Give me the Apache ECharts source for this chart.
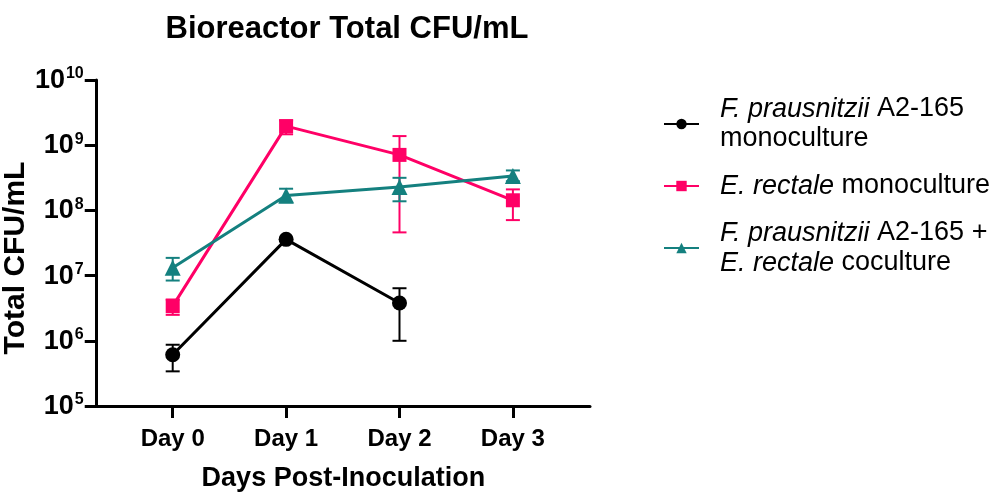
<!DOCTYPE html>
<html>
<head>
<meta charset="utf-8">
<script src="https://cdn.jsdelivr.net/npm/echarts@6/dist/echarts.min.js"></script>
<style>
  html, body { margin: 0; padding: 0; background: #fff; }
  #chart { width: 1000px; height: 497px; }
</style>
</head>
<body>
<div id="chart"></div>
<script>
// Days sampled after inoculation
const days = ['Day 0', 'Day 1', 'Day 2', 'Day 3'];

// F. prausnitzii A2-165 monoculture (mean, lower and upper error bounds, CFU/mL)
const fpMean = [6.1e5, 3.6e7, 3.8e6, null];
const fpLow  = [3.4e5, 3.4e7, 1.0e6, null];
const fpHigh = [8.7e5, 3.8e7, 6.4e6, null];

// E. rectale monoculture
const erMean = [3.4e6, 1.96e9, 7.1e8, 1.43e8];
const erLow  = [2.5e6, 1.47e9, 4.6e7, 7.1e7];
const erHigh = [4.3e6, 2.4e9, 1.38e9, 2.1e8];

// F. prausnitzii A2-165 + E. rectale coculture
const coMean = [1.32e7, 1.69e8, 2.28e8, 3.36e8];
const coLow  = [8.4e6, 1.32e8, 1.38e8, 2.8e8];
const coHigh = [1.87e7, 2.15e8, 3.16e8, 4.1e8];

// Y-axis decades shown as powers of ten
const yExponents = [5, 6, 7, 8, 9, 10];

const FONT = '"Liberation Sans", Arial, sans-serif';
const BLACK = '#000000';
const PINK = '#FF0066';
const TEAL = '#14807F';

function points(mean) {
  return mean.map((v, i) => v == null ? null : [i, v]).filter(Boolean);
}
function bars(low, high) {
  return low.map((l, i) => (l == null || high[i] == null) ? null : [i, l, high[i]]).filter(Boolean);
}

function errorBarSeries(name, low, high, color, z) {
  return {
    type: 'custom',
    name: name + ' error',
    z: z,
    silent: true,
    data: bars(low, high),
    encode: { x: 0, y: [1, 2] },
    renderItem: function (params, api) {
      const x = api.value(0);
      const lo = api.coord([x, api.value(1)]);
      const hi = api.coord([x, api.value(2)]);
      const half = 7;
      const style = { stroke: color, lineWidth: 2 };
      return {
        type: 'group',
        children: [
          { type: 'line', shape: { x1: lo[0], y1: lo[1], x2: hi[0], y2: hi[1] }, style: style },
          { type: 'line', shape: { x1: lo[0] - half, y1: lo[1], x2: lo[0] + half, y2: lo[1] }, style: style },
          { type: 'line', shape: { x1: hi[0] - half, y1: hi[1], x2: hi[0] + half, y2: hi[1] }, style: style }
        ]
      };
    }
  };
}

function lineSeries(name, mean, color, symbol, size, z) {
  return {
    type: 'line',
    name: name,
    z: z,
    data: points(mean),
    symbol: symbol,
    symbolSize: size,
    showAllSymbol: true,
    lineStyle: { color: color, width: 3 },
    itemStyle: { color: color, opacity: 1 },
    emphasis: { disabled: true }
  };
}

const NAME_FP = 'fp';
const NAME_ER = 'er';
const NAME_CO = 'co';

const legendText = {};
legendText[NAME_FP] = '{i|F. prausnitzii} A2-165\nmonoculture';
legendText[NAME_ER] = '{i|E. rectale} monoculture';
legendText[NAME_CO] = '{i|F. prausnitzii} A2-165 +\n{i|E. rectale} coculture';

const chart = echarts.init(document.getElementById('chart'), null, { renderer: 'canvas' });

chart.setOption({
  animation: false,
  backgroundColor: '#ffffff',
  title: {
    text: 'Bioreactor Total CFU/mL',
    left: 342,
    top: 9,
    textAlign: 'center',
    textStyle: { fontFamily: FONT, fontWeight: 'bold', fontSize: 31, color: '#000' }
  },
  legend: {
    orient: 'vertical',
    left: 658,
    top: 89,
    itemWidth: 35,
    itemHeight: 13,
    itemGap: 17,
    data: [NAME_FP, NAME_ER, NAME_CO],
    formatter: function (name) { return legendText[name]; },
    textStyle: {
      fontFamily: FONT,
      fontSize: 27,
      color: '#000',
      lineHeight: 30,
      padding: [0, 0, 0, 16],
      rich: {
        i: { fontFamily: FONT, fontSize: 27, fontStyle: 'italic', color: '#000', lineHeight: 30 }
      }
    }
  },
  grid: { left: 92, top: 80, width: 498, height: 330, containLabel: false },
  xAxis: {
    type: 'value',
    min: -0.67,
    max: 3.68,
    name: 'Days Post-Inoculation',
    nameLocation: 'middle',
    nameGap: 59,
    nameTextStyle: { fontFamily: FONT, fontWeight: 'bold', fontSize: 27, color: '#000' },
    axisLine: { show: true, onZero: false, lineStyle: { color: '#000', width: 3 } },
    axisTick: { show: true, inside: false, length: 12, customValues: [0, 1, 2, 3], lineStyle: { color: '#000', width: 3 } },
    axisLabel: {
      customValues: [0, 1, 2, 3],
      margin: 21,
      fontFamily: FONT, fontWeight: 'bold', fontSize: 24, color: '#000',
      formatter: function (v) { return days[Math.round(v)]; }
    },
    splitLine: { show: false }
  },
  yAxis: {
    type: 'log',
    logBase: 10,
    min: Math.pow(10, yExponents[0]),
    max: Math.pow(10, yExponents[yExponents.length - 1]),
    name: 'Total CFU/mL',
    nameLocation: 'middle',
    nameGap: 50,
    nameTextStyle: { fontFamily: FONT, fontWeight: 'bold', fontSize: 30, color: '#000', padding: [0, 30, 0, 0] },
    axisLine: { show: true, onZero: false, lineStyle: { color: '#000', width: 3 } },
    axisTick: { show: true, inside: false, length: 12, lineStyle: { color: '#000', width: 3 } },
    axisLabel: {
      margin: 13,
      formatter: function (v) {
        const e = Math.round(Math.log10(v));
        return '{b|10}{s|' + e + '}';
      },
      rich: {
        b: { fontFamily: FONT, fontWeight: 'bold', fontSize: 27, color: '#000', verticalAlign: 'bottom' },
        s: { fontFamily: FONT, fontWeight: 'bold', fontSize: 16, color: '#000', verticalAlign: 'top', padding: [0, 0, 12, 1] }
      }
    },
    splitLine: { show: false },
    minorTick: { show: false }
  },
  series: [
    errorBarSeries(NAME_FP, fpLow, fpHigh, BLACK, 1),
    lineSeries(NAME_FP, fpMean, BLACK, 'circle', 15, 2),
    errorBarSeries(NAME_ER, erLow, erHigh, PINK, 3),
    lineSeries(NAME_ER, erMean, PINK, 'rect', 14, 4),
    errorBarSeries(NAME_CO, coLow, coHigh, TEAL, 5),
    lineSeries(NAME_CO, coMean, TEAL, 'triangle', 16, 6)
  ]
});
</script>
</body>
</html>
